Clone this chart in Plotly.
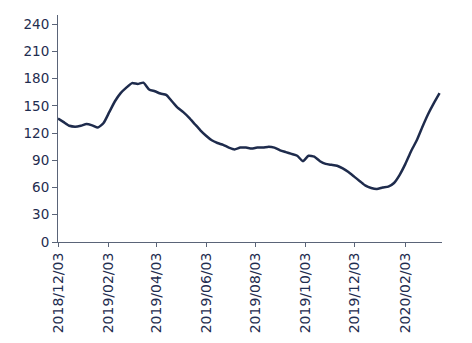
import plotly.graph_objects as go
import pandas as pd

start_date = "2018-12-03"
n_weeks = 68
values = [136, 132, 128, 127, 128, 130, 128.5, 126, 131, 143,
          155, 164, 170, 175, 174, 175.5, 168, 166, 163.5, 162,
          155, 148, 143, 137, 130, 123, 117, 112, 109, 107,
          104, 102, 104, 104, 103, 104, 104, 105, 104, 101,
          99, 97, 95, 89, 95, 94, 89, 86, 85, 84,
          81, 77, 72, 67, 62, 59.5, 58.5, 60, 61, 65,
          74, 86, 100, 112, 127, 141, 153, 164]
dates = pd.date_range(start_date, periods=n_weeks, freq="7D")

y_ticks = [0, 30, 60, 90, 120, 150, 180, 210, 240]

navy = "#1E2B4C"
fig = go.Figure(go.Scatter(x=dates, y=values, mode="lines",
                           line=dict(color=navy, width=2.5, shape="spline", smoothing=0.5)))

yfont = dict(family="DejaVu Sans", size=13.5, color="#1F2D50")
xfont = dict(family="DejaVu Sans", size=14, color="#1F2D50")
fig.update_layout(
    width=464, height=335,
    margin=dict(l=50, r=30, t=7, b=101, autoexpand=False),
    paper_bgcolor="white", plot_bgcolor="white",
    showlegend=False,
    xaxis=dict(type="date", range=["2018-12-03", "2020-03-19"],
               tick0="2018-12-03", dtick="M2", tickformat="%Y/%m/%d",
               tickangle=-90, ticks="outside", ticklen=4, tickcolor="#5A6478",
               showline=True, linecolor="#5A6478", linewidth=1,
               showgrid=False, zeroline=False, tickfont=xfont),
    yaxis=dict(range=[0, 250], tickvals=y_ticks, ticks="outside", ticklen=5,
               tickcolor="#5A6478", showline=True, linecolor="#5A6478", linewidth=1,
               showgrid=False, zeroline=False, tickfont=yfont),
)
fig.write_html("out.html")
